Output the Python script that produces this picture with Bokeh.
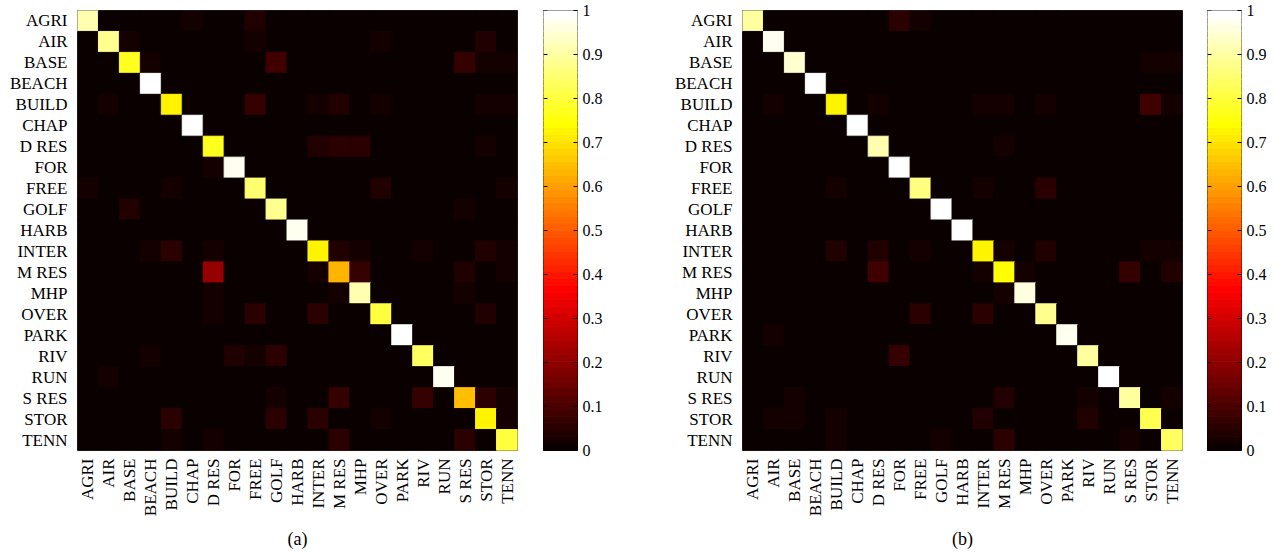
import numpy as np
from bokeh.plotting import figure
from bokeh.layouts import row
from bokeh.models import ColumnDataSource, LinearColorMapper, FixedTicker, Range1d
from bokeh.transform import transform
from bokeh.embed import file_html
from bokeh.resources import INLINE

# ---------------- data ----------------
classes = ["AGRI", "AIR", "BASE", "BEACH", "BUILD", "CHAP", "D RES", "FOR", "FREE",
           "GOLF", "HARB", "INTER", "M RES", "MHP", "OVER", "PARK", "RIV", "RUN",
           "S RES", "STOR", "TENN"]

# (a) diagonal (per-class accuracy)
diag_a = [0.91, 0.88, 0.77, 0.99, 0.72, 0.99, 0.77, 0.975, 0.85, 0.89, 0.975,
          0.72, 0.63, 0.91, 0.80, 0.99, 0.835, 0.975, 0.65, 0.72, 0.80]
# (a) off-diagonal confusions (row, col, value); all others ~0
off_a = [(0, 5, 0.02), (0, 8, 0.035),
         (1, 2, 0.02), (1, 8, 0.02), (1, 14, 0.02), (1, 19, 0.035),
         (2, 3, 0.02), (2, 9, 0.08), (2, 18, 0.065), (2, 19, 0.02), (2, 20, 0.02),
         (4, 1, 0.02), (4, 8, 0.065), (4, 11, 0.02), (4, 12, 0.035), (4, 14, 0.02), (4, 19, 0.02), (4, 20, 0.02),
         (6, 11, 0.035), (6, 12, 0.05), (6, 13, 0.05), (6, 19, 0.02),
         (7, 6, 0.02),
         (8, 0, 0.02), (8, 4, 0.02), (8, 14, 0.035), (8, 20, 0.02),
         (9, 2, 0.035), (9, 18, 0.02),
         (11, 3, 0.02), (11, 4, 0.05), (11, 6, 0.02), (11, 12, 0.035), (11, 13, 0.02), (11, 16, 0.02), (11, 19, 0.035), (11, 20, 0.02),
         (12, 6, 0.21), (12, 11, 0.02), (12, 13, 0.065), (12, 18, 0.035), (12, 20, 0.02),
         (13, 6, 0.02), (13, 12, 0.02), (13, 18, 0.02),
         (14, 6, 0.02), (14, 8, 0.05), (14, 11, 0.05), (14, 19, 0.035),
         (16, 3, 0.02), (16, 7, 0.035), (16, 8, 0.02), (16, 9, 0.05),
         (17, 1, 0.02),
         (18, 9, 0.02), (18, 12, 0.065), (18, 16, 0.065), (18, 19, 0.05), (18, 20, 0.02),
         (19, 4, 0.05), (19, 9, 0.05), (19, 11, 0.05), (19, 14, 0.02), (19, 20, 0.02),
         (20, 4, 0.02), (20, 6, 0.02), (20, 12, 0.05), (20, 18, 0.05)]

# (b) diagonal
diag_b = [0.90, 0.975, 0.945, 0.99, 0.72, 0.99, 0.91, 0.99, 0.865, 0.99, 0.99,
          0.72, 0.74, 0.96, 0.88, 0.975, 0.90, 0.99, 0.90, 0.82, 0.835]
off_b = [(0, 7, 0.05), (0, 8, 0.02),
         (2, 19, 0.02), (2, 20, 0.02),
         (4, 1, 0.02), (4, 6, 0.02), (4, 11, 0.02), (4, 12, 0.02), (4, 14, 0.02), (4, 19, 0.08), (4, 20, 0.02),
         (6, 12, 0.02),
         (8, 4, 0.02), (8, 11, 0.02), (8, 14, 0.05),
         (11, 4, 0.035), (11, 6, 0.035), (11, 8, 0.02), (11, 12, 0.02), (11, 14, 0.035), (11, 19, 0.02), (11, 20, 0.02),
         (12, 6, 0.08), (12, 11, 0.02), (12, 13, 0.02), (12, 18, 0.065), (12, 20, 0.035),
         (13, 12, 0.02),
         (14, 8, 0.05), (14, 11, 0.05),
         (15, 1, 0.02),
         (16, 7, 0.065),
         (18, 2, 0.02), (18, 12, 0.035), (18, 16, 0.02), (18, 20, 0.02),
         (19, 1, 0.02), (19, 2, 0.02), (19, 4, 0.02), (19, 11, 0.035), (19, 16, 0.035),
         (20, 4, 0.02), (20, 9, 0.02), (20, 12, 0.05), (20, 18, 0.02)]

captions = ["(a)", "(b)"]
cbar_ticks = [0, 0.1, 0.2, 0.3, 0.4, 0.5, 0.6, 0.7, 0.8, 0.9, 1]

# ---------------- style ----------------
FONT = "Liberation Serif"
LABEL_FS = "17px"
CBAR_FS = "16px"
N_LEVELS = 64


def hot_palette(n):
    k = int(3 * n / 8)
    cols = []
    for i in range(1, n + 1):
        r = min(i / k, 1.0)
        g = min(max((i - k) / k, 0.0), 1.0)
        b = max((i - 2 * k) / (n - 2 * k), 0.0)
        cols.append("#%02x%02x%02x" % (round(r * 255), round(g * 255), round(b * 255)))
    return cols


palette = hot_palette(N_LEVELS)
mapper = LinearColorMapper(palette=palette, low=0, high=1)


def build_matrix(diag, off):
    n = len(classes)
    m = [[0.0] * n for _ in range(n)]
    for i, v in enumerate(diag):
        m[i][i] = v
    for r, c, v in off:
        m[r][c] = v
    return m


def heat_fig(mat, caption, width, right_border):
    xs, ys, vs = [], [], []
    for i, rl in enumerate(classes):
        for j, cl in enumerate(classes):
            xs.append(cl)
            ys.append(rl)
            vs.append(mat[i][j])
    src = ColumnDataSource(dict(x=xs, y=ys, v=vs))
    p = figure(width=width, height=554, x_range=classes, y_range=classes[::-1],
               output_backend="svg", toolbar_location=None,
               min_border_left=77, min_border_right=right_border,
               min_border_top=10, min_border_bottom=104)
    p.background_fill_color = palette[0]
    p.rect(x="x", y="y", width=1, height=1, source=src,
           fill_color=transform("v", mapper), line_color=transform("v", mapper),
           line_width=1)
    p.grid.visible = False
    p.outline_line_color = "#3a3a3a"
    p.outline_line_width = 1
    for ax in (p.xaxis[0], p.yaxis[0]):
        ax.axis_line_color = None
        ax.major_tick_line_color = None
        ax.minor_tick_line_color = None
        ax.major_tick_out = 0
        ax.major_tick_in = 0
        ax.major_label_text_font = FONT
        ax.major_label_text_font_size = LABEL_FS
        ax.major_label_text_color = "black"
    p.yaxis.major_label_standoff = 10
    p.xaxis.major_label_standoff = 8
    p.xaxis.major_label_orientation = np.pi / 2
    p.xaxis.axis_label = caption
    p.xaxis.axis_label_text_font = FONT
    p.xaxis.axis_label_text_font_size = "18px"
    p.xaxis.axis_label_text_font_style = "normal"
    p.xaxis.axis_label_text_color = "black"
    p.xaxis.axis_label_standoff = 10
    return p


def cbar_fig(width, right_border):
    lo = [k / N_LEVELS for k in range(N_LEVELS)]
    hi = [(k + 1) / N_LEVELS for k in range(N_LEVELS)]
    mid = [(a + b) / 2 for a, b in zip(lo, hi)]
    src = ColumnDataSource(dict(bottom=lo, top=hi, mid=mid))
    p = figure(width=width, height=554, x_range=Range1d(0, 1), y_range=Range1d(0, 1),
               output_backend="svg", toolbar_location=None,
               x_axis_location=None, y_axis_location="right",
               min_border_left=0, min_border_right=right_border,
               min_border_top=10, min_border_bottom=104)
    p.quad(left=0, right=1, bottom="bottom", top="top", source=src,
           fill_color=transform("mid", mapper), line_color=transform("mid", mapper),
           line_width=1)
    # inward tick marks on the left edge of the colour bar
    p.ray(x=0, y=cbar_ticks, length=4, length_units="screen", angle=0,
          line_color="black", line_width=1)
    p.grid.visible = False
    p.outline_line_color = "black"
    p.outline_line_width = 1
    ax = p.yaxis[0]
    ax.ticker = FixedTicker(ticks=cbar_ticks)
    ax.major_label_overrides = {0: "0", 1: "1"}
    ax.axis_line_color = None
    ax.major_tick_in = 4
    ax.major_tick_out = 0
    ax.major_tick_line_color = "black"
    ax.minor_tick_line_color = None
    ax.major_label_standoff = 5
    ax.major_label_text_font = FONT
    ax.major_label_text_font_size = CBAR_FS
    ax.major_label_text_color = "black"
    return p


mat_a = build_matrix(diag_a, off_a)
mat_b = build_matrix(diag_b, off_b)

fa = heat_fig(mat_a, captions[0], 543, 26)
ca = cbar_fig(122, 88)
fb = heat_fig(mat_b, captions[1], 542, 25)
cb = cbar_fig(67, 33)

layout = row(fa, ca, fb, cb, spacing=0)
open("out.html", "w").write(file_html(layout, INLINE))
